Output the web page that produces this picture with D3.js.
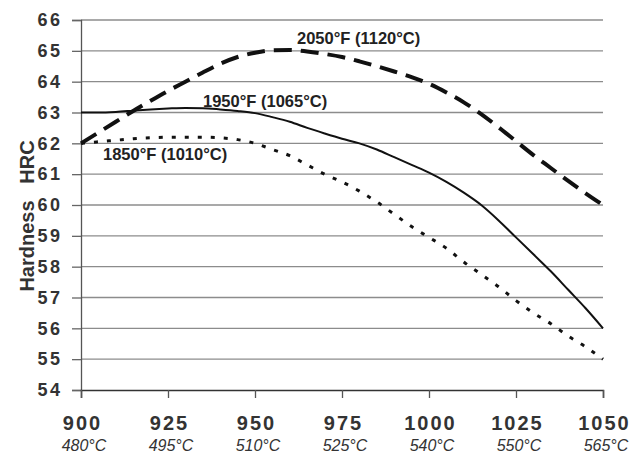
<!DOCTYPE html>
<html>
<head>
<meta charset="utf-8">
<script src="https://cdn.jsdelivr.net/npm/d3@7/dist/d3.min.js"></script>
<style>
  body { margin: 0; background: #fff; }
  svg { display: block; font-family: "Liberation Sans", Arial, sans-serif; }
</style>
</head>
<body>
<svg id="chart" width="640" height="453"></svg>
<script>
// austenitizing temperature (°F) along x
var temps = [900, 905, 910, 915, 920, 925, 930, 935, 940, 945, 950, 955, 960, 965, 970, 975,
             980, 985, 990, 995, 1000, 1005, 1010, 1015, 1020, 1025, 1030, 1035, 1040, 1045, 1050];

var hrc2050 = [62.0, 62.35, 62.7, 63.05, 63.38, 63.7, 64.0, 64.3, 64.58, 64.8, 64.94, 65.02, 65.03, 64.98, 64.9, 64.8,
               64.66, 64.5, 64.33, 64.15, 63.93, 63.65, 63.33, 62.95, 62.52, 62.07, 61.62, 61.2, 60.78, 60.38, 60.0];
var hrc1950 = [63.0, 63.0, 63.02, 63.06, 63.1, 63.13, 63.15, 63.14, 63.1, 63.05, 62.98, 62.85, 62.7, 62.5, 62.32, 62.15,
               62.0, 61.8, 61.55, 61.3, 61.05, 60.75, 60.4, 60.0, 59.5, 58.95, 58.4, 57.85, 57.25, 56.65, 56.0];
var hrc1850 = [62.0, 62.05, 62.1, 62.15, 62.18, 62.2, 62.2, 62.2, 62.18, 62.12, 62.0, 61.8, 61.6, 61.3, 61.0, 60.75,
               60.45, 60.1, 59.7, 59.3, 58.95, 58.6, 58.15, 57.75, 57.35, 56.9, 56.5, 56.15, 55.75, 55.4, 55.0];

var seriesNames = ["2050°F (1120°C)", "1950°F (1065°C)", "1850°F (1010°C)"];

var xTicks = [900, 925, 950, 975, 1000, 1025, 1050];
var xTicksC = ["480°C", "495°C", "510°C", "525°C", "540°C", "550°C", "565°C"];
var yTicks = [54, 55, 56, 57, 58, 59, 60, 61, 62, 63, 64, 65, 66];

var svg = d3.select("#chart");
var plotL = 81, plotR = 603, plotT = 20, plotB = 390;

var x = d3.scaleLinear().domain([900, 1050]).range([plotL, plotR]);
var y = d3.scaleLinear().domain([54, 66]).range([plotB, plotT]);

// horizontal grid
svg.append("g").selectAll("line").data(yTicks.filter(function (d) { return d > 54; })).join("line")
  .attr("x1", plotL).attr("x2", plotR)
  .attr("y1", function (d) { return y(d); }).attr("y2", function (d) { return y(d); })
  .attr("stroke", "#8c8c8c").attr("stroke-width", 1.3);

// y axis
var yAxis = svg.append("g").attr("transform", "translate(" + plotL + ",0)")
  .call(d3.axisLeft(y).tickValues(yTicks).tickSize(9).tickPadding(9.5).tickFormat(d3.format("d")));
yAxis.select(".domain").attr("stroke", "#555").attr("stroke-width", 1.3);
yAxis.selectAll(".tick line").attr("stroke", "#666").attr("stroke-width", 1.3);
yAxis.selectAll("text").attr("font-size", 18).attr("font-weight", "bold")
  .attr("fill", "#333").attr("letter-spacing", 2.5).attr("font-family", "Liberation Sans, Arial, sans-serif");

// x axis
var xAxis = svg.append("g").attr("transform", "translate(0," + plotB + ")")
  .call(d3.axisBottom(x).tickValues(xTicks).tickSize(8).tickPadding(18).tickFormat(d3.format("d")));
xAxis.select(".domain").attr("stroke", "#333").attr("stroke-width", 1.5);
xAxis.selectAll(".tick line").attr("stroke", "#555").attr("stroke-width", 1.3);
xAxis.selectAll("text").attr("font-size", 20).attr("font-weight", "bold").attr("dx", 1)
  .attr("fill", "#333").attr("letter-spacing", 2).attr("font-family", "Liberation Sans, Arial, sans-serif");

// celsius labels under the ticks
svg.append("g").selectAll("text").data(xTicks).join("text")
  .attr("x", function (d) { return x(d) + 3; })
  .attr("y", 451)
  .attr("text-anchor", "middle")
  .attr("font-size", 16).attr("font-style", "italic").attr("fill", "#333")
  .text(function (d, i) { return xTicksC[i]; });

// axis title
svg.append("text")
  .attr("transform", "translate(34,216) rotate(-90)")
  .attr("text-anchor", "middle")
  .attr("font-size", 20).attr("font-weight", "bold").attr("fill", "#333")
  .attr("xml:space", "preserve")
  .text("Hardness   HRC");

var line = d3.line()
  .x(function (d, i) { return x(temps[i]); })
  .y(function (d) { return y(d); })
  .curve(d3.curveMonotoneX);

svg.append("path").datum(hrc2050).attr("d", line)
  .attr("fill", "none").attr("stroke", "#111").attr("stroke-width", 4)
  .attr("stroke-dasharray", "18 9");
svg.append("path").datum(hrc1950).attr("d", line)
  .attr("fill", "none").attr("stroke", "#111").attr("stroke-width", 2);
svg.append("path").datum(hrc1850).attr("d", line)
  .attr("fill", "none").attr("stroke", "#111").attr("stroke-width", 3)
  .attr("stroke-dasharray", "4 9");

// curve labels
var labelPos = [[297, 44], [203, 107], [103, 160]];
svg.append("g").selectAll("text").data(seriesNames).join("text")
  .attr("x", function (d, i) { return labelPos[i][0]; })
  .attr("y", function (d, i) { return labelPos[i][1]; })
  .attr("font-size", 16.5).attr("font-weight", "bold").attr("fill", "#222")
  .text(function (d) { return d; });
</script>
</body>
</html>
